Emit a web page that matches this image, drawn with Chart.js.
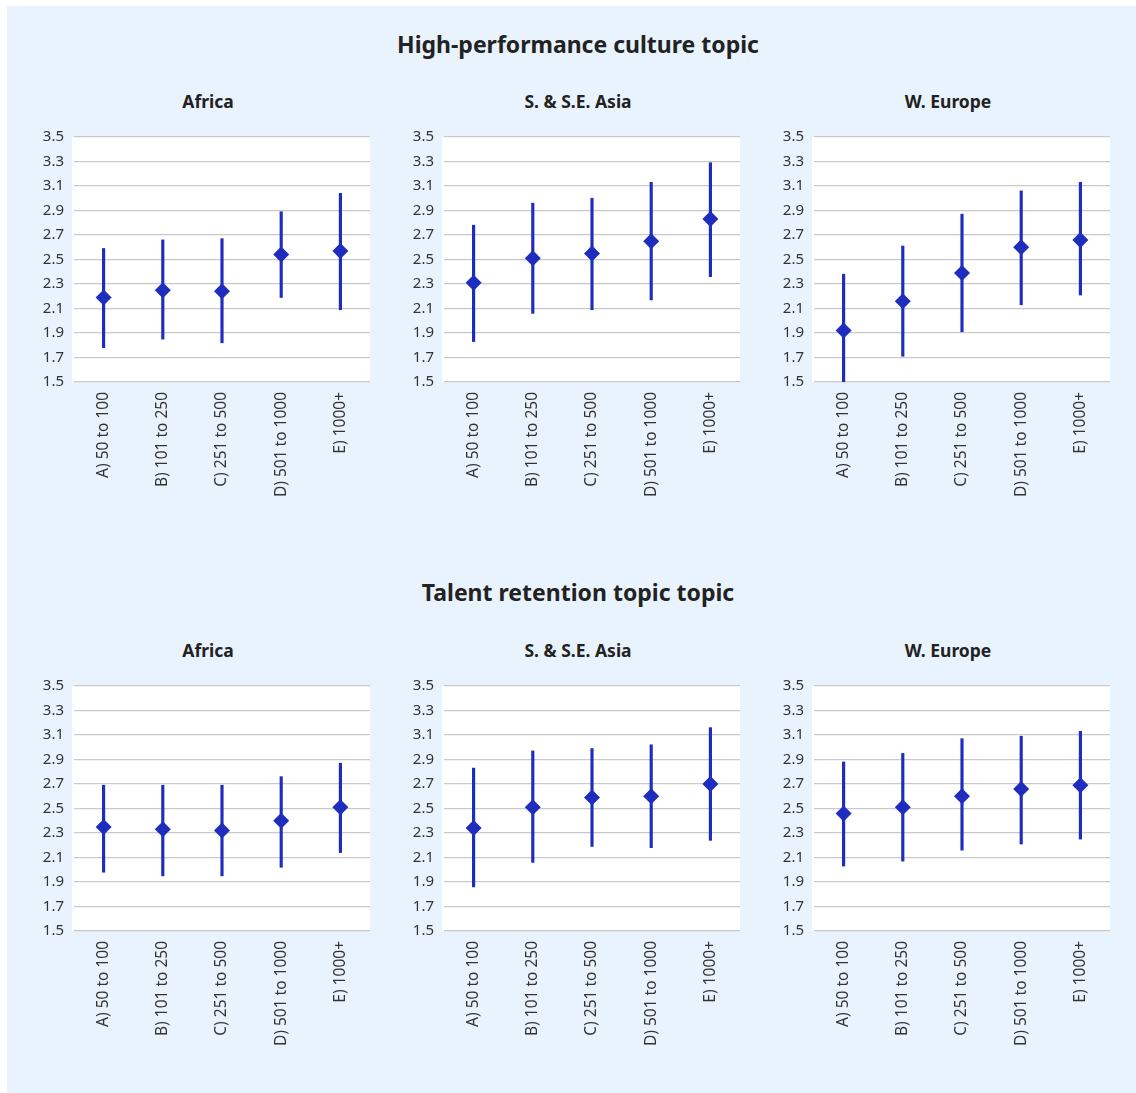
<!DOCTYPE html>
<html>
<head>
<meta charset="utf-8">
<script src="https://cdn.jsdelivr.net/npm/chart.js@4.4.1/dist/chart.umd.min.js"></script>
<style>
  html, body { margin: 0; padding: 0; background: #fff; }
  body { width: 1136px; height: 1093px; position: relative; overflow: hidden; font-family: "Noto Sans", sans-serif; }
  #panel { position: absolute; left: 7px; top: 6px; right: 0; bottom: 0; background: #e9f3fd; }
  .head { position: absolute; left: 0; width: 1156px; text-align: center; font-weight: bold; font-size: 23px; color: #222; line-height: 30px; }
  .sub { position: absolute; width: 300px; text-align: center; font-weight: bold; font-size: 17.5px; color: #222; line-height: 24px; }
  .box { position: absolute; width: 354px; height: 392px; }
</style>
</head>
<body>
<div id="panel"></div>
<div class="head" style="top:29px">High-performance culture topic</div>
<div class="head" style="top:577px">Talent retention topic topic</div>
<div class="sub" style="left:58px;top:89px" id="s0"></div>
<div class="sub" style="left:428px;top:89px" id="s1"></div>
<div class="sub" style="left:798px;top:89px" id="s2"></div>
<div class="sub" style="left:58px;top:638px" id="s3"></div>
<div class="sub" style="left:428px;top:638px" id="s4"></div>
<div class="sub" style="left:798px;top:638px" id="s5"></div>
<div class="box" style="left:30px;top:118px"><canvas id="c0"></canvas></div>
<div class="box" style="left:400px;top:118px"><canvas id="c1"></canvas></div>
<div class="box" style="left:770px;top:118px"><canvas id="c2"></canvas></div>
<div class="box" style="left:30px;top:667px"><canvas id="c3"></canvas></div>
<div class="box" style="left:400px;top:667px"><canvas id="c4"></canvas></div>
<div class="box" style="left:770px;top:667px"><canvas id="c5"></canvas></div>
<script>
const sizes = ['A) 50 to 100', 'B) 101 to 250', 'C) 251 to 500', 'D) 501 to 1000', 'E) 1000+'];
const regions = ['Africa', 'S. & S.E. Asia', 'W. Europe'];

// High-performance culture topic
const hpAfricaMean = [2.19, 2.25, 2.24, 2.54, 2.57];
const hpAfricaLow  = [1.78, 1.85, 1.82, 2.19, 2.09];
const hpAfricaHigh = [2.59, 2.66, 2.67, 2.89, 3.04];

const hpAsiaMean = [2.31, 2.51, 2.55, 2.65, 2.83];
const hpAsiaLow  = [1.83, 2.06, 2.09, 2.17, 2.36];
const hpAsiaHigh = [2.78, 2.96, 3.00, 3.13, 3.29];

const hpEuropeMean = [1.92, 2.16, 2.39, 2.60, 2.66];
const hpEuropeLow  = [1.50, 1.71, 1.91, 2.13, 2.21];
const hpEuropeHigh = [2.38, 2.61, 2.87, 3.06, 3.13];

// Talent retention topic
const trAfricaMean = [2.35, 2.33, 2.32, 2.40, 2.51];
const trAfricaLow  = [1.98, 1.95, 1.95, 2.02, 2.14];
const trAfricaHigh = [2.69, 2.69, 2.69, 2.76, 2.87];

const trAsiaMean = [2.34, 2.51, 2.59, 2.60, 2.70];
const trAsiaLow  = [1.86, 2.06, 2.19, 2.18, 2.24];
const trAsiaHigh = [2.83, 2.97, 2.99, 3.02, 3.16];

const trEuropeMean = [2.46, 2.51, 2.60, 2.66, 2.69];
const trEuropeLow  = [2.03, 2.07, 2.16, 2.21, 2.25];
const trEuropeHigh = [2.88, 2.95, 3.07, 3.09, 3.13];

const yTicks = [1.5, 1.7, 1.9, 2.1, 2.3, 2.5, 2.7, 2.9, 3.1, 3.3, 3.5];

const panels = [
    [regions[0], hpAfricaMean, hpAfricaLow, hpAfricaHigh],
    [regions[1], hpAsiaMean, hpAsiaLow, hpAsiaHigh],
    [regions[2], hpEuropeMean, hpEuropeLow, hpEuropeHigh],
    [regions[0], trAfricaMean, trAfricaLow, trAfricaHigh],
    [regions[1], trAsiaMean, trAsiaLow, trAsiaHigh],
    [regions[2], trEuropeMean, trEuropeLow, trEuropeHigh]
];

const blue = '#1f2dbf';

// white plot background, a touch wider on the left like the original
const whiteArea = {
    id: 'whiteArea',
    beforeDraw(chart) {
        const a = chart.chartArea;
        const ctx = chart.ctx;
        ctx.save();
        ctx.fillStyle = '#ffffff';
        ctx.fillRect(a.left - 2, a.top, a.right - a.left + 2, a.bottom - a.top);
        ctx.restore();
    }
};

Chart.defaults.font.family = '"Noto Sans", sans-serif';
Chart.defaults.color = '#333';

panels.forEach(function (p, i) {
    document.getElementById('s' + i).textContent = p[0];
    new Chart(document.getElementById('c' + i), {
        data: {
            labels: sizes,
            datasets: [
                {
                    type: 'line',
                    data: p[1],
                    showLine: false,
                    pointStyle: 'rectRot',
                    pointRadius: 8,
                    pointBackgroundColor: blue,
                    pointBorderColor: blue,
                    pointBorderWidth: 0,
                    order: 0
                },
                {
                    type: 'bar',
                    data: p[2].map((lo, k) => [lo, p[3][k]]),
                    backgroundColor: blue,
                    barThickness: 2.5,
                    order: 1
                }
            ]
        },
        options: {
            responsive: true,
            maintainAspectRatio: false,
            animation: false,
            layout: { padding: { left: 0, right: 14, top: 15, bottom: 0 } },
            plugins: {
                legend: { display: false },
                tooltip: { enabled: false }
            },
            scales: {
                x: {
                    grid: { display: false, drawTicks: false },
                    border: { display: false },
                    ticks: { maxRotation: 90, minRotation: 90, padding: 10, font: { size: 15.5 } },
                    afterFit(s) { s.height = 128; }
                },
                y: {
                    min: 1.5,
                    max: 3.5,
                    afterBuildTicks(s) { s.ticks = yTicks.map(v => ({ value: v })); },
                    grid: { color: '#c9c9c9', lineWidth: 1.2, drawTicks: false },
                    border: { display: false },
                    ticks: { padding: 10, font: { size: 15 }, callback: v => Number(v).toFixed(1) },
                    afterFit(s) { s.width = 44; }
                }
            }
        },
        plugins: [whiteArea]
    });
});
</script>
</body>
</html>
